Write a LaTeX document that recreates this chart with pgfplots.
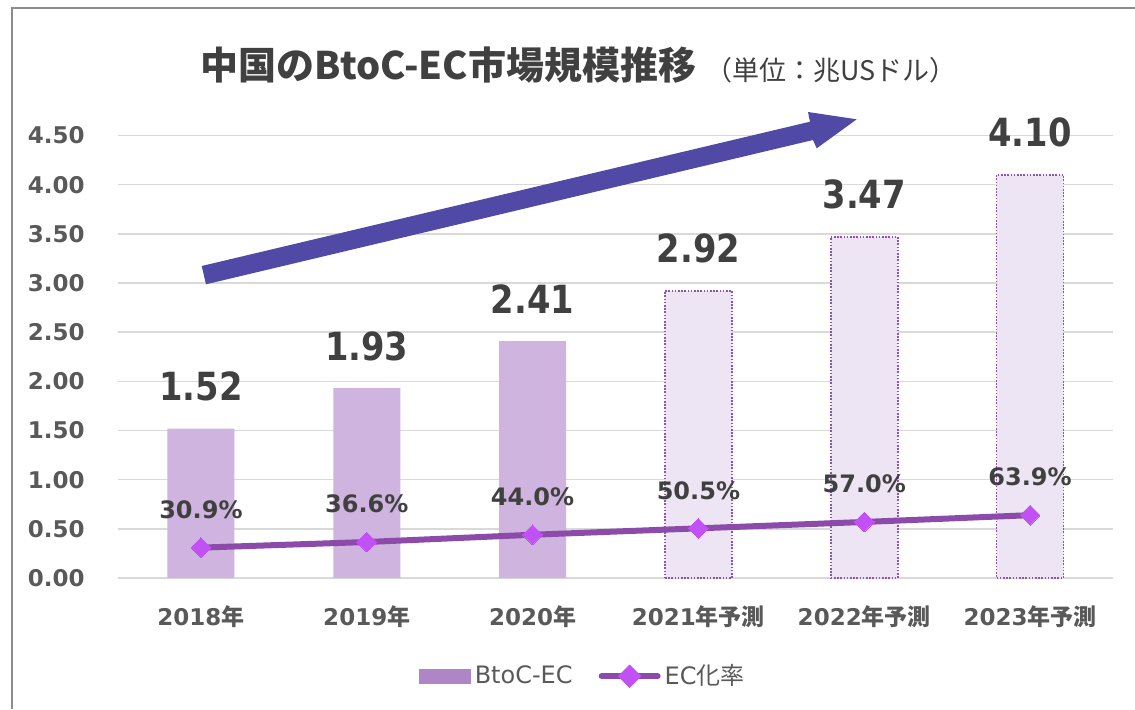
\documentclass[border=0pt]{standalone}
\usepackage{fontspec}
\usepackage{pgfplots}
\pgfplotsset{compat=1.18}
\setmainfont{DejaVu Sans}
\newfontfamily\cjk{Noto Sans CJK JP}
\newfontfamily\bignum[FakeStretch=0.87]{DejaVu Sans}
\definecolor{barfill}{HTML}{CEB4DE}
\definecolor{fcfill}{HTML}{EDE5F3}
\definecolor{fcedge}{HTML}{9150B9}
\definecolor{linecol}{HTML}{8C4BAA}
\definecolor{markcol}{HTML}{C150F5}
\definecolor{legbar}{HTML}{AE86C8}
\definecolor{gridgray}{HTML}{D9D9D9}
\definecolor{tickgray}{HTML}{595959}
\definecolor{labelgray}{HTML}{404040}
\definecolor{arrowcol}{HTML}{5049A6}
\definecolor{framegray}{HTML}{8C8C8C}

\begin{document}
\begin{tikzpicture}
\path[use as bounding box] (0pt,0pt) rectangle (567.5pt,354.5pt);
\draw[framegray,line width=1pt] (6pt,0pt) -- (6pt,350.5pt) -- (567.5pt,350.5pt);

\node[anchor=west,inner sep=0pt,text=labelgray] at (100pt,322pt)
  {\cjk\bfseries\fontsize{19}{22}\selectfont 中国のBtoC-EC市場規模推移};
\node[anchor=west,inner sep=0pt,text=labelgray] at (352.5pt,319.5pt)
  {\cjk\fontsize{13.5}{16}\selectfont （単位：兆USドル）};

\begin{axis}[
  at={(59pt,65.5pt)},anchor=south west,
  scale only axis,width=497.5pt,height=221.25pt,
  xmin=-0.5,xmax=5.5,ymin=0,ymax=4.5,
  clip=false,
  axis line style={draw=none},
  major tick length=0pt,
  ymajorgrids,grid style={gridgray,line width=0.75pt},
  xtick={0,1,2,3,4,5},
  xticklabels={2018{\cjk 年},2019{\cjk 年},2020{\cjk 年},2021{\cjk 年予測},2022{\cjk 年予測},2023{\cjk 年予測}},
  ytick={0,0.5,1,1.5,2,2.5,3,3.5,4,4.5},
  /pgf/number format/assume math mode=true,
  yticklabel={\pgfmathprintnumber[fixed,fixed zerofill,precision=2]{\tick}},
  xticklabel style={anchor=base,inner sep=0pt,yshift=-23.5pt,text=tickgray,font=\bfseries\fontsize{11.5}{13}\selectfont},
  yticklabel style={anchor=east,inner sep=0pt,xshift=-16.5pt,text=tickgray,font=\bfseries\fontsize{11.5}{13}\selectfont},
  legend style={draw=none,fill=none,at={(0.468,-0.222)},anchor=center,
    legend columns=2,font=\fontsize{12}{14}\selectfont,text=tickgray,
    /tikz/every even column/.append style={column sep=11pt}},
  legend cell align=left,
]
\addplot[ybar,bar width=33.5pt,bar shift=0pt,fill=barfill,draw=none,
  nodes near coords,point meta=explicit symbolic,
  every node near coord/.append style={anchor=south,inner sep=0pt,yshift=13.5pt,
    text=labelgray,font=\bignum\bfseries\fontsize{19.4}{22}\selectfont},
  legend image code/.code={\fill[legbar] (0pt,-3.75pt) rectangle (26pt,3.75pt);}]
coordinates {
  (0,1.52) [1.52]
  (1,1.93) [1.93]
  (2,2.41) [2.41]
};
\addlegendentry{BtoC-EC}
\addplot[ybar,bar width=33.5pt,bar shift=0pt,fill=fcfill,draw=fcedge,
  dash pattern=on 0.8pt off 0.8pt,line width=0.8pt,
  nodes near coords,point meta=explicit symbolic,forget plot,
  every node near coord/.append style={anchor=south,inner sep=0pt,yshift=13.5pt,solid,
    text=labelgray,font=\bignum\bfseries\fontsize{19.4}{22}\selectfont}]
coordinates {
  (3,2.92) [2.92]
  (4,3.47) [3.47]
  (5,4.10) [4.10]
};
\addplot[color=linecol,line width=3pt,mark=square*,mark size=3.5pt,
  mark options={rotate=45,fill=markcol,draw=markcol,line width=0pt},
  nodes near coords,point meta=explicit symbolic,
  every node near coord/.append style={anchor=south,inner sep=0pt,yshift=14.5pt,
    text=labelgray,font=\bfseries\fontsize{12}{14}\selectfont},
  legend image code/.code={
    \draw[linecol,line width=3pt,line cap=round] (0pt,0pt) -- (28pt,0pt);
    \fill[markcol,rotate around={45:(14pt,0pt)}] (11.35pt,-2.65pt) rectangle (16.65pt,2.65pt);}]
coordinates {
  (0,0.309) [30.9\%]
  (1,0.366) [36.6\%]
  (2,0.440) [44.0\%]
  (3,0.505) [50.5\%]
  (4,0.570) [57.0\%]
  (5,0.639) [63.9\%]
};
\addlegendentry{EC{\cjk 化率}}
\end{axis}

\fill[arrowcol] (100.85pt,221.5pt) -- (405pt,293.65pt) -- (404pt,298.5pt) -- (428.35pt,294.85pt)
  -- (408.35pt,280.35pt) -- (406.5pt,284.5pt) -- (103pt,212.35pt) -- cycle;
\end{tikzpicture}
\end{document}
